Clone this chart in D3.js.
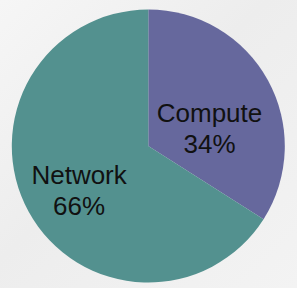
<!DOCTYPE html>
<html>
<head>
<meta charset="utf-8">
<script src="https://cdn.jsdelivr.net/npm/d3@7"></script>
<style>
html,body{margin:0;padding:0;background:#f2f2f2;}
svg{display:block;}
</style>
</head>
<body>
<svg id="chart" width="297" height="288"></svg>
<script>
const categories = ["Compute", "Network"];
const values = [34, 66];
const valueLabels = ["34%", "66%"];

const W = 297, H = 288;
const cx = 148.3, cy = 146, R = 136.5;
const colors = ["#66689d", "#53918f"];
const labelNudge = [[-1, 17], [-7, 10]];

const svg = d3.select("#chart");
const defs = svg.append("defs");
const g0 = defs.append("linearGradient").attr("id","bg").attr("x1",0).attr("y1",0).attr("x2",1).attr("y2",1);
g0.append("stop").attr("offset","0%").attr("stop-color","#f6f6f6");
g0.append("stop").attr("offset","45%").attr("stop-color","#ededed");
g0.append("stop").attr("offset","100%").attr("stop-color","#f3f3f3");
svg.append("rect").attr("width",W).attr("height",H).attr("fill","url(#bg)");

const data = categories.map((c,i)=>({cat:c, value:values[i], label:valueLabels[i]}));
const pie = d3.pie().sort(null).value(d=>d.value);
const arcs = pie(data);
const arc = d3.arc().innerRadius(0).outerRadius(R);
const labelArc = d3.arc().innerRadius(R*0.52).outerRadius(R*0.52);

const g = svg.append("g").attr("transform",`translate(${cx},${cy})`);
g.selectAll("path").data(arcs).join("path")
  .attr("d",arc)
  .attr("fill",(d,i)=>colors[i]);

const lh = 31, fs = 26;
arcs.forEach((d,i)=>{
  const [x,y] = labelArc.centroid(d);
  const t = g.append("text")
    .attr("x", x + labelNudge[i][0])
    .attr("y", y + labelNudge[i][1])
    .attr("text-anchor","middle")
    .attr("font-family","'Liberation Sans', Arial, sans-serif")
    .attr("font-size", fs)
    .attr("fill","#111");
  t.append("tspan").attr("x", x + labelNudge[i][0]).attr("dy", -lh/2 + fs*0.35).text(d.data.cat);
  t.append("tspan").attr("x", x + labelNudge[i][0]).attr("dy", lh).text(d.data.label);
});
</script>
</body>
</html>
